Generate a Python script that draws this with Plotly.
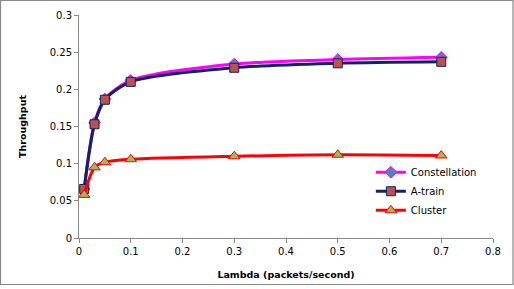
import plotly.graph_objects as go

lam = [0.01, 0.03, 0.05, 0.1, 0.3, 0.5, 0.7]
constellation = [0.066, 0.155, 0.187, 0.212, 0.234, 0.240, 0.243]
atrain = [0.066, 0.153, 0.186, 0.210, 0.229, 0.235, 0.237]
cluster = [0.058, 0.095, 0.102, 0.106, 0.110, 0.112, 0.111]

x_ticks = [0, 0.1, 0.2, 0.3, 0.4, 0.5, 0.6, 0.7, 0.8]
x_labels = ["0", "0.1", "0.2", "0.3", "0.4", "0.5", "0.6", "0.7", "0.8"]
y_ticks = [0, 0.05, 0.1, 0.15, 0.2, 0.25, 0.3]
y_labels = ["0", "0.05", "0.1", "0.15", "0.2", "0.25", "0.3"]

font = "DejaVu Sans, Verdana, sans-serif"

fig = go.Figure()
fig.add_trace(go.Scatter(
    x=lam, y=constellation, name="Constellation", mode="lines+markers",
    line=dict(color="#FF00FF", width=3, shape="spline", smoothing=0.8),
    marker=dict(symbol="diamond", size=9, color="#4F81BD", line=dict(color="#FF00FF", width=1)),
))
fig.add_trace(go.Scatter(
    x=lam, y=atrain, name="A-train", mode="lines+markers",
    line=dict(color="#0F2465", width=3, shape="spline", smoothing=0.8),
    marker=dict(symbol="square", size=9, color="#C0504D", line=dict(color="#0F2465", width=1)),
))
fig.add_trace(go.Scatter(
    x=lam, y=cluster, name="Cluster", mode="lines+markers",
    line=dict(color="#FF0000", width=3, shape="spline", smoothing=0.8),
    marker=dict(symbol="triangle-up", size=10, color="#9BBB59", line=dict(color="#FF0000", width=1)),
))

W, L, T, PW, PH = 514, 79, 15, 414, 223

fig.update_layout(
    width=514, height=289,
    margin=dict(l=79, r=21, t=15, b=51, autoexpand=False),
    paper_bgcolor="white", plot_bgcolor="white",
    font=dict(family=font, size=10, color="#000000"),
    showlegend=True,
    legend=dict(
        x=0.705, y=0.36, xanchor="left", yanchor="top",
        bgcolor="rgba(0,0,0,0)", font=dict(family=font, size=10),
        itemwidth=30, tracegroupgap=0,
    ),
    xaxis=dict(
        range=[0, 0.8], tickvals=x_ticks, ticktext=x_labels,
        showgrid=False, zeroline=False, showline=True, linecolor="#888888", linewidth=1,
        ticks="outside", ticklen=4, tickcolor="#888888",
        title=dict(text="<b>Lambda (packets/second)</b>", font=dict(family=font, size=9.5), standoff=15),
    ),
    yaxis=dict(
        range=[0, 0.3], tickvals=y_ticks, ticktext=y_labels,
        showgrid=False, zeroline=False, showline=True, linecolor="#888888", linewidth=1,
        ticks="outside", ticklen=4, tickcolor="#888888",
        title=dict(text="<b>Throughput</b>", font=dict(family=font, size=9.5), standoff=21),
    ),
    shapes=[dict(type="rect", xref="paper", yref="paper",
                 x0=(0.5 - L) / PW, x1=(513 - L) / PW,
                 y0=(T + PH - 284.5) / PH, y1=(T + PH - 0.5) / PH,
                 line=dict(color="#888888", width=1.2), fillcolor="rgba(0,0,0,0)", layer="above")],
)

fig.write_html("out.html", config={"displayModeBar": False},
               post_script="document.body.style.margin='0';document.body.style.overflow='hidden';")
